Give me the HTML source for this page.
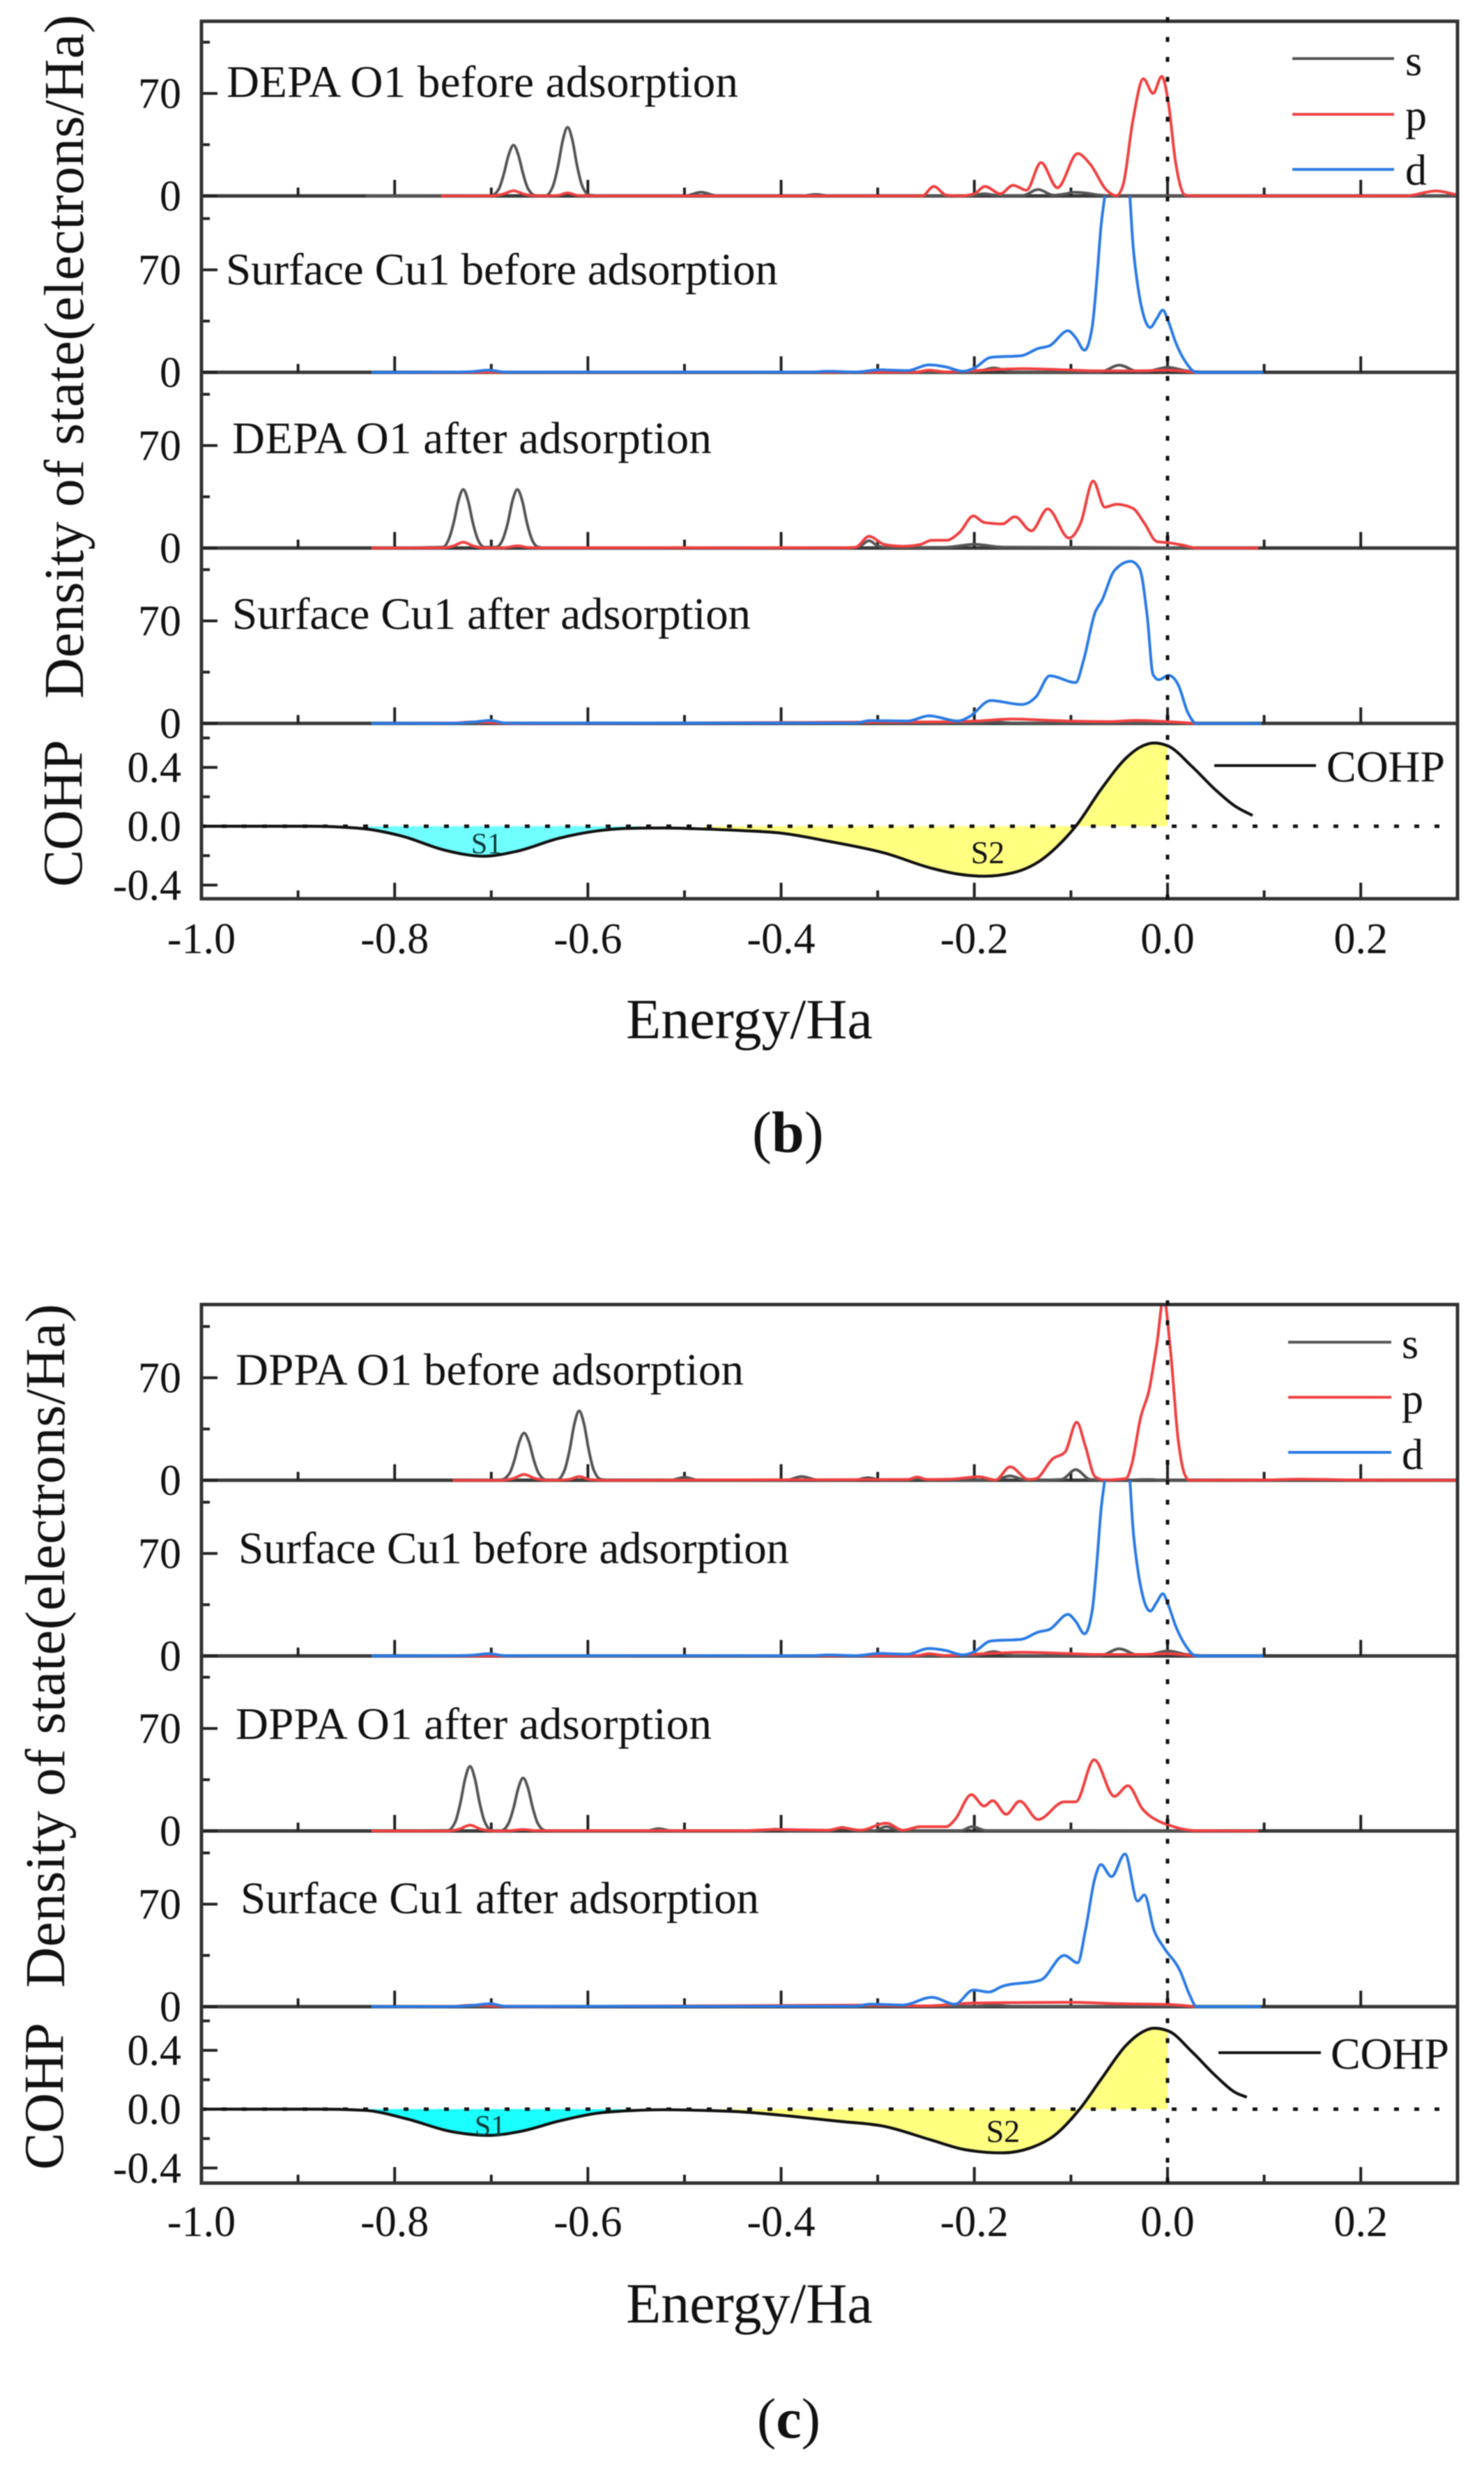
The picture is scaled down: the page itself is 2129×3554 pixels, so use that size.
<!DOCTYPE html>
<html lang="en">
<head>
<meta charset="utf-8">
<title>Density of state and COHP charts</title>
<style>
html,body{margin:0;padding:0;background:#fff;width:2129px;height:3554px;overflow:hidden}
svg{display:block;filter:blur(0.9px)}
text{font-family:"Liberation Serif","Times New Roman",serif;fill:#111}
</style>
</head>
<body>
<svg id="chart" xmlns="http://www.w3.org/2000/svg" width="2129" height="3554" viewBox="0 0 2129 3554">
  <rect x="0" y="0" width="2129" height="3554" fill="#fff"/>
  <defs id="clips"></defs>
  <g id="plots"></g>

  <text x="325" y="139" font-size="65" textLength="734">DEPA O1 before adsorption</text>
  <text x="324" y="408" font-size="65" textLength="792">Surface Cu1 before adsorption</text>
  <text x="333" y="650" font-size="65" textLength="688">DEPA O1 after adsorption</text>
  <text x="333" y="902" font-size="65" textLength="744">Surface Cu1 after adsorption</text>

  <text x="338" y="1986" font-size="65" textLength="729">DPPA O1 before adsorption</text>
  <text x="342" y="2242" font-size="65" textLength="790">Surface Cu1 before adsorption</text>
  <text x="338" y="2494" font-size="65" textLength="683">DPPA O1 after adsorption</text>
  <text x="345" y="2744" font-size="65" textLength="744">Surface Cu1 after adsorption</text>

  <text transform="translate(119,1002) rotate(-90)" font-size="81" textLength="981">Density of state(electrons/Ha)</text>
  <text transform="translate(117,1272) rotate(-90)" font-size="80" textLength="211">COHP</text>
  <text transform="translate(92,2851) rotate(-90)" font-size="81" textLength="981">Density of state(electrons/Ha)</text>
  <text transform="translate(90,3112) rotate(-90)" font-size="80" textLength="211">COHP</text>

  <text x="1075" y="1489" font-size="82" text-anchor="middle">Energy/Ha</text>
  <text x="1075" y="3331" font-size="82" text-anchor="middle">Energy/Ha</text>

  <g>
    <line x1="1854" x2="2000" y1="84" y2="84" stroke="#555" stroke-width="4"/>
    <text x="2016" y="108" font-size="62">s</text>
    <line x1="1854" x2="2000" y1="164" y2="164" stroke="#f04040" stroke-width="4"/>
    <text x="2016" y="186" font-size="62">p</text>
    <line x1="1854" x2="2000" y1="243" y2="243" stroke="#2a7ae4" stroke-width="4"/>
    <text x="2016" y="265" font-size="62">d</text>
    <line x1="1742" x2="1888" y1="1098" y2="1098" stroke="#111" stroke-width="4"/>
    <text x="1903" y="1121" font-size="64" textLength="170">COHP</text>
  </g>
  <g>
    <line x1="1848" x2="1996" y1="1925" y2="1925" stroke="#555" stroke-width="4"/>
    <text x="2011" y="1948" font-size="62">s</text>
    <line x1="1848" x2="1996" y1="2004" y2="2004" stroke="#f04040" stroke-width="4"/>
    <text x="2011" y="2027" font-size="62">p</text>
    <line x1="1848" x2="1996" y1="2083" y2="2083" stroke="#2a7ae4" stroke-width="4"/>
    <text x="2011" y="2107" font-size="62">d</text>
    <line x1="1748" x2="1895" y1="2944" y2="2944" stroke="#111" stroke-width="4"/>
    <text x="1909" y="2967" font-size="64" textLength="170">COHP</text>
  </g>

  <text x="698" y="1224" font-size="42" text-anchor="middle" style="fill:#0b3a3a">S1</text>
  <text x="1417" y="1238" font-size="46" text-anchor="middle">S2</text>
  <text x="703" y="3063" font-size="42" text-anchor="middle" style="fill:#0b3a3a">S1</text>
  <text x="1439" y="3072" font-size="46" text-anchor="middle">S2</text>

  <text x="1079" y="1652" font-size="84">(<tspan font-weight="bold">b</tspan>)</text>
  <text x="1086" y="3496" font-size="82">(<tspan font-weight="bold">c</tspan>)</text>
</svg>
<script>
// ---- axis tick values ----
const xMajorTicks = [-1, -0.8, -0.6, -0.4, -0.2, 0, 0.2];
const xMinorTicks = [-0.9, -0.7, -0.5, -0.3, -0.1, 0.1];
const dosMajorTicks = [0, 70];
const dosMinorTicks = [35, 105];
const cohpMajorTicks = [-0.4, 0, 0.4];
const cohpMinorTicks = [-0.2, 0.2, 0.6];

// ---- figure (b): DEPA O1 before adsorption ----
const b1_s_energy = [-.83,-.70,-.692,-.687,-.682,-.677,-.672,-.667,-.662,-.654,-.644,-.636,-.631,-.626,-.621,-.616,-.611,-.606,-.598,-.58,-.5,-.483,-.465,-.38,-.364,-.348,-.205,-.19,-.175,-.15,-.134,-.118,-.105,-.097,-.085,-.07,-.05,0,.3];
const b1_s_dos = [0,.3,5,15,28,34.7,28,15,5,.3,.2,7,20,38,46.9,38,20,7,.5,0,0,2.5,0,0,1,0,0,1.5,.3,.3,4.4,.5,1.5,2.5,2,.5,0,0,0];
const b1_p_energy = [-.752,-.70,-.688,-.677,-.666,-.65,-.632,-.621,-.61,-.59,-.254,-.242,-.229,-.215,-.2,-.189,-.173,-.16,-.146,-.131,-.114,-.093,-.08,-.063,-.053,-.046,-.036,-.025,-.015,-.006,.001,.008,.018,.025,.246,.278,.3];
const b1_p_dos = [0,0,1.2,3.5,1.2,0,.3,2,.3,0,0,6.5,.5,0,1.5,6.5,1.5,7.3,3.9,22.8,5.6,28.9,21.6,3.9,.2,7.5,51,80,70,81.6,63,24.5,.7,0,0,3.4,.7];

// ---- figure (b): Surface Cu1 before adsorption ----
const b2_s_energy = [-.824,-.2,-.18,-.16,-.07,-.05,-.03,-.02,0,.02,.04];
const b2_s_dos = [0,.2,3,.3,.2,4.9,.5,.8,3.4,1,0];
const b2_p_energy = [-.824,-.26,-.247,-.23,-.19,-.15,-.11,-.07,-.03,0,.03];
const b2_p_dos = [0,.2,1.5,.3,1.5,2.5,1.8,1,1,1.5,0];
const b2_d_energy = [-.824,-.74,-.72,-.703,-.685,-.367,-.352,-.323,-.298,-.269,-.247,-.229,-.212,-.2,-.183,-.151,-.134,-.122,-.103,-.095,-.086,-.078,-.073,-.069,-.065,-.053,-.039,-.036,-.031,-.025,-.018,-.011,-.005,.001,.008,.018,.03,.099];
const b2_d_dos = [0,.2,.5,1.5,.2,.2,.7,.2,1.7,1.2,5.1,3.6,.7,2.9,10.2,11.4,16.3,18.2,28.4,23.6,15.1,30.9,64.9,98.9,120.5,200,120.5,89.2,60,39.4,30.6,36.9,42.5,34.5,21.1,7.8,0,0];

// ---- figure (b): DEPA O1 after adsorption ----
const b3_s_energy = [-.824,-.75,-.744,-.739,-.734,-.729,-.724,-.719,-.714,-.707,-.695,-.688,-.683,-.678,-.673,-.668,-.663,-.658,-.651,-.64,-.33,-.318,-.309,-.3,-.29,-.23,-.2,-.17,-.1,.03];
const b3_s_dos = [0,.6,6,17,32.4,40,32.4,17,6,.6,.6,6,17,32.4,40,32.4,17,6,.6,0,0,1.5,5,1.5,.3,.5,2.5,.6,.5,0];
const b3_p_energy = [-.824,-.75,-.739,-.729,-.719,-.708,-.69,-.683,-.673,-.663,-.65,-.5,-.45,-.4,-.35,-.323,-.309,-.293,-.274,-.256,-.244,-.229,-.215,-.201,-.19,-.171,-.158,-.141,-.124,-.102,-.09,-.077,-.065,-.053,-.036,-.024,-.011,.001,.016,.03,.094];
const b3_p_dos = [0,.1,1.5,4,1.5,.1,.1,.5,1.5,.5,.1,.3,.1,.3,.1,.5,8,2.4,1.2,2.4,5.3,5.3,10.9,21.9,17.5,16.5,21.4,11.7,26.7,6.8,17,45.7,27.9,29.9,27.2,17,4.4,3.6,1.9,0,0];

// ---- figure (b): Surface Cu1 after adsorption ----
const b4_s_energy = [-.824,-.7,-.2,-.18,-.16,-.05,0,.03];
const b4_s_dos = [0,.3,.3,1,.3,.3,.5,0];
const b4_p_energy = [-.824,-.74,-.72,-.70,-.68,-.32,-.24,-.2,-.161,-.12,-.097,-.06,-.033,0,.03];
const b4_p_dos = [0,.2,1,.6,0,.8,1,1.5,3,2,1.5,1.2,2,1.2,0];
const b4_d_energy = [-.824,-.74,-.72,-.701,-.685,-.367,-.323,-.308,-.269,-.247,-.217,-.205,-.183,-.151,-.136,-.122,-.095,-.087,-.075,-.068,-.055,-.038,-.029,-.021,-.015,-.009,.001,.011,.021,.03,.097];
const b4_d_dos = [0,.1,.8,2,.2,.3,.3,1.9,1.6,5.2,1.6,4.6,15.6,12.9,18.3,32.5,27.9,42.9,75.7,83.9,104.4,110.7,105.8,73,33.4,29.8,32.8,26.5,7.4,0,0];

// ---- figure (b): COHP ----
const b_cohp_energy = [-1,-.89,-.836,-.792,-.748,-.708,-.674,-.63,-.591,-.556,-.522,-.483,-.44,-.401,-.352,-.293,-.244,-.215,-.19,-.161,-.131,-.107,-.095,-.068,-.043,-.028,-.014,.001,.025,.05,.07,.088];
const b_cohp_value = [0,0,-.014,-.068,-.163,-.204,-.171,-.082,-.032,-.014,-.012,-.018,-.03,-.046,-.101,-.182,-.286,-.327,-.34,-.318,-.231,-.09,0,.259,.463,.539,.566,.544,.408,.245,.136,.073];

// ---- figure (c): DPPA O1 before adsorption ----
const c1_s_energy = [-.74,-.69,-.681,-.676,-.671,-.666,-.661,-.656,-.651,-.643,-.632,-.624,-.619,-.614,-.609,-.604,-.599,-.594,-.586,-.57,-.515,-.5,-.485,-.395,-.379,-.36,-.325,-.31,-.295,-.27,-.259,-.245,-.18,-.163,-.146,-.11,-.095,-.08,-.05,-.02,0,.3];
const c1_s_dos = [0,.3,4.8,13.9,26.2,32.3,26.2,13.9,4.8,.3,.3,7.1,20.4,38.4,47.4,38.4,20.4,7.1,.5,0,0,2,0,0,2.5,0,0,1.7,0,0,1,0,0,3,0,.5,7.3,.5,0,.5,0,0];
const c1_p_energy = [-.74,-.69,-.677,-.666,-.655,-.64,-.62,-.609,-.598,-.58,-.269,-.259,-.249,-.225,-.195,-.178,-.163,-.144,-.136,-.119,-.106,-.094,-.085,-.075,-.065,-.043,-.037,-.028,-.019,-.011,-.004,.003,.011,.018,.023,.099,.136,.197,.3];
const c1_p_dos = [0,0,1.3,4,1.3,0,.5,2.5,.5,0,.5,2.2,.5,.7,2.4,.2,9.2,.5,1.2,14.6,19.4,39.6,23.1,2.4,.2,1.2,10.9,42.5,62,93.5,125,88.7,27.9,3.6,0,.2,.7,.2,0];

// ---- figure (c): Surface Cu1 before adsorption ----
const c2_s_energy = [-.824,-.2,-.18,-.16,-.07,-.05,-.03,-.02,0,.02,.04];
const c2_s_dos = [0,.2,3,.3,.2,4.9,.5,.8,3.4,1,0];
const c2_p_energy = [-.824,-.26,-.247,-.23,-.19,-.15,-.11,-.07,-.03,0,.03];
const c2_p_dos = [0,.2,1.5,.3,1.5,2.5,1.8,1,1,1.5,0];
const c2_d_energy = [-.824,-.74,-.72,-.703,-.685,-.367,-.352,-.323,-.298,-.269,-.247,-.229,-.212,-.2,-.183,-.151,-.134,-.122,-.103,-.095,-.086,-.078,-.073,-.069,-.065,-.053,-.039,-.036,-.031,-.025,-.018,-.011,-.005,.001,.008,.018,.03,.099];
const c2_d_dos = [0,.2,.5,1.5,.2,.2,.7,.2,1.7,1.2,5.1,3.6,.7,2.9,10.2,11.4,16.3,18.2,28.4,23.6,15.1,30.9,64.9,98.9,120.5,200,120.5,89.2,60,39.4,30.6,36.9,42.5,34.5,21.1,7.8,0,0];

// ---- figure (c): DPPA O1 after adsorption ----
const c3_s_energy = [-.824,-.745,-.737,-.732,-.727,-.722,-.717,-.712,-.707,-.699,-.69,-.682,-.677,-.672,-.667,-.662,-.657,-.652,-.644,-.63,-.54,-.527,-.512,-.42,-.406,-.39,-.35,-.337,-.322,-.305,-.291,-.276,-.215,-.202,-.188,-.1,.03];
const c3_s_dos = [0,.4,6.6,19,35.8,44.2,35.8,19,6.6,.3,.2,5.4,15.6,29.3,36.2,29.3,15.6,5.4,.3,0,0,1.5,0,0,1.2,0,0,2.4,0,0,3,0,0,3,.3,.3,0];
const c3_p_energy = [-.824,-.745,-.733,-.722,-.711,-.695,-.68,-.667,-.654,-.6,-.5,-.44,-.406,-.352,-.337,-.318,-.291,-.274,-.256,-.229,-.22,-.203,-.19,-.181,-.167,-.153,-.134,-.107,-.095,-.076,-.055,-.041,-.026,-.009,.001,.016,.03,.094];
const c3_p_dos = [0,0,1.3,4,1.3,0,.2,1,.2,.2,.2,.2,1,.5,2.2,.5,5.3,.5,2.9,2.9,7.8,24.8,17,20.7,11.4,20.4,7.8,19.9,19.9,48.6,23.6,30.9,15.1,6.6,4.1,1.2,.2,0];

// ---- figure (c): Surface Cu1 after adsorption ----
const c4_s_energy = [-.824,-.7,-.2,-.18,-.16,-.05,0,.03];
const c4_s_dos = [0,.3,.3,1,.3,.3,.5,0];
const c4_p_energy = [-.824,-.74,-.72,-.70,-.68,-.32,-.25,-.2,-.15,-.1,-.05,0,.03];
const c4_p_dos = [0,.2,1,.6,0,1,.5,2.5,2.8,3,2,1.5,0];
const c4_d_energy = [-.824,-.74,-.72,-.701,-.685,-.367,-.323,-.308,-.274,-.244,-.22,-.201,-.185,-.171,-.131,-.107,-.093,-.085,-.075,-.069,-.058,-.044,-.031,-.024,-.014,-.004,.013,.023,.03,.097];
const c4_d_dos = [0,.1,.8,2,.2,.3,.3,1.7,1.1,6.4,1.7,11.4,10,13.9,18.3,35,30,52.2,88.2,97.1,88.8,104.3,72.1,76.3,52.2,40.5,24.4,7.8,0,0];

// ---- figure (c): COHP ----
const c_cohp_energy = [-1,-.875,-.831,-.787,-.743,-.703,-.669,-.63,-.591,-.556,-.522,-.483,-.44,-.391,-.342,-.293,-.244,-.21,-.171,-.141,-.117,-.091,-.068,-.043,-.028,-.014,.001,.025,.05,.07,.082];
const c_cohp_value = [0,0,-.008,-.067,-.15,-.178,-.15,-.081,-.028,-.01,-.004,-.008,-.019,-.047,-.081,-.117,-.211,-.275,-.297,-.261,-.178,0,.211,.433,.517,.55,.531,.392,.225,.114,.081];

// ---- bonding / antibonding shaded energy ranges ----
const b_s1_range = [-.831, -.545];
const b_s2_range = [-.48, 0];
const c_s1_range = [-.831, -.545];
const c_s2_range = [-.47, 0];

// ---- layout (pixels) ----
const SVG_NS = 'http://www.w3.org/2000/svg';
const X_LEFT = 289, X_RIGHT = 2091, X_PER_HA = 1386;
const DOS_PX = 2.1, COHP_PX = 211;
const COLOR_S = '#555555', COLOR_P = '#f04040', COLOR_D = '#2a7ae4';

const xScale = e => X_LEFT + X_PER_HA * (e + 1);
const dosScale = (base, v) => base - DOS_PX * v;
const cohpScale = (zero, v) => zero - COHP_PX * v;

const plots = document.getElementById('plots');
const clips = document.getElementById('clips');

function make(tag, attrs, parent) {
  const node = document.createElementNS(SVG_NS, tag);
  for (const k in attrs) node.setAttribute(k, attrs[k]);
  parent.appendChild(node);
  return node;
}

// Monotone cubic path through data-derived points.
function curvePath(xs, ys) {
  const n = xs.length;
  const h = [], m = [], t = [];
  for (let i = 0; i < n - 1; i++) {
    h[i] = xs[i + 1] - xs[i];
    m[i] = (ys[i + 1] - ys[i]) / (h[i] || 1e-6);
  }
  t[0] = m[0];
  t[n - 1] = m[n - 2];
  for (let i = 1; i < n - 1; i++) {
    if (m[i - 1] * m[i] <= 0) {
      t[i] = 0;
    } else {
      const p = (m[i - 1] * h[i] + m[i] * h[i - 1]) / (h[i - 1] + h[i]);
      const s = Math.min(Math.abs(m[i - 1]), Math.abs(m[i]));
      t[i] = Math.sign(m[i]) * Math.min(2 * s, Math.abs(p));
    }
  }
  let d = 'M' + xs[0].toFixed(1) + ' ' + ys[0].toFixed(1);
  for (let i = 0; i < n - 1; i++) {
    const c = h[i] / 3;
    d += 'C' + (xs[i] + c).toFixed(1) + ' ' + (ys[i] + t[i] * c).toFixed(1) + ' ' +
         (xs[i + 1] - c).toFixed(1) + ' ' + (ys[i + 1] - t[i + 1] * c).toFixed(1) + ' ' +
         xs[i + 1].toFixed(1) + ' ' + ys[i + 1].toFixed(1);
  }
  return d;
}

function drawXTicks(group, base, prefix) {
  xMajorTicks.forEach(e => {
    const tick = make('line', {x1: xScale(e), x2: xScale(e), y1: base, y2: base - 23, stroke: '#222', 'stroke-width': 4}, group);
    
    
  });
  xMinorTicks.forEach(e => {
    const tick = make('line', {x1: xScale(e), x2: xScale(e), y1: base, y2: base - 12, stroke: '#222', 'stroke-width': 4}, group);
    
    
  });
}

function drawYTick(group, y, len, prefix) {
  const tick = make('line', {x1: X_LEFT, x2: X_LEFT + len, y1: y, y2: y, stroke: '#222', 'stroke-width': 4}, group);
  
  
}

function drawYLabel(group, y, str, prefix) {
  const label = make('text', {x: 260, y: y + 21, 'font-size': 62, 'text-anchor': 'end'}, group);
  label.textContent = str;
  
  
}

function drawSeries(group, clipId, base, energy, dos, color, name) {
  const xs = energy.map(xScale);
  const ys = dos.map(v => dosScale(base, v));
  const line = make('path', {d: curvePath(xs, ys), fill: 'none', stroke: color, 'stroke-width': 4, 'stroke-linejoin': 'round', 'clip-path': 'url(#' + clipId + ')'}, group);
  
  
}

function drawDosPanel(fig, idx, top, base, series) {
  const prefix = fig.id + '-panel-' + (idx + 1);
  const group = make('g', {}, plots);
  
  

  const clipId = prefix + '-clip';
  const clip = make('clipPath', {id: clipId}, clips);
  make('rect', {x: X_LEFT, y: top, width: X_RIGHT - X_LEFT, height: base - top + 2.5}, clip);

  const baseline = make('line', {x1: X_LEFT, x2: X_RIGHT, y1: base, y2: base, stroke: '#3a3a3a', 'stroke-width': 5}, group);
  
  

  drawXTicks(group, base, prefix);
  dosMajorTicks.forEach(v => {
    drawYTick(group, dosScale(base, v), 23, prefix);
    drawYLabel(group, dosScale(base, v), String(v), prefix);
  });
  dosMinorTicks.forEach(v => drawYTick(group, dosScale(base, v), 12, prefix));

  series.forEach(s => drawSeries(group, clipId, base, s.energy, s.dos, s.color, prefix + '-' + s.orbital + '-line'));
}

function drawCohpPanel(fig, energy, value, s1, s2) {
  const prefix = fig.id + '-cohp';
  const group = make('g', {}, plots);
  
  

  const xs = energy.map(xScale);
  const ys = value.map(v => cohpScale(fig.cohpZero, v));
  const curve = curvePath(xs, ys);
  const areaPath = curve + 'L' + xs[xs.length - 1].toFixed(1) + ' ' + fig.cohpZero + 'L' + xs[0].toFixed(1) + ' ' + fig.cohpZero + 'Z';

  [[s1, fig.cyan, 's1'], [s2, fig.yellow, 's2']].forEach(item => {
    const range = item[0];
    const clipId = prefix + '-' + item[2] + '-clip';
    const clip = make('clipPath', {id: clipId}, clips);
    make('rect', {x: xScale(range[0]), y: fig.cohpTop, width: xScale(range[1]) - xScale(range[0]), height: fig.bottom - fig.cohpTop}, clip);
    const area = make('path', {d: areaPath, fill: item[1], stroke: 'none', 'clip-path': 'url(#' + clipId + ')'}, group);
    
    
  });

  drawXTicks(group, fig.bottom, prefix);
  cohpMajorTicks.forEach(v => {
    drawYTick(group, cohpScale(fig.cohpZero, v), 23, prefix);
    drawYLabel(group, cohpScale(fig.cohpZero, v), v.toFixed(1), prefix);
  });
  cohpMinorTicks.forEach(v => drawYTick(group, cohpScale(fig.cohpZero, v), 12, prefix));

  const zeroLine = make('line', {x1: X_LEFT, x2: 2080, y1: fig.cohpZero, y2: fig.cohpZero, stroke: '#111', 'stroke-width': 5, 'stroke-dasharray': '7 22'}, group);
  
  

  const line = make('path', {d: curve, fill: 'none', stroke: '#111', 'stroke-width': 4.2, 'stroke-linejoin': 'round'}, group);
  
  
}

function drawFrame(fig) {
  const group = make('g', {}, plots);
  
  

  const frame = make('rect', {x: X_LEFT, y: fig.top, width: X_RIGHT - X_LEFT, height: fig.bottom - fig.top, fill: 'none', stroke: '#333', 'stroke-width': 5}, group);
  
  

  const fermi = make('line', {x1: xScale(0), x2: xScale(0), y1: fig.top - 6, y2: fig.bottom + 9, stroke: '#111', 'stroke-width': 5, 'stroke-dasharray': '7 21.6'}, group);
  
  

  xMajorTicks.forEach(e => {
    const label = make('text', {x: xScale(e), y: fig.xLabelY, 'font-size': 62, 'text-anchor': 'middle'}, group);
    label.textContent = e.toFixed(1);
    
    
  });
}

function drawFigure(fig, panels, cohp) {
  panels.forEach((series, i) => {
    const top = i === 0 ? fig.top : fig.bases[i - 1];
    drawDosPanel(fig, i, top, fig.bases[i], series);
  });
  drawCohpPanel(fig, cohp.energy, cohp.value, cohp.s1, cohp.s2);
  drawFrame(fig);
}

const orbital = (name, energy, dos) => ({
  orbital: name,
  energy: energy,
  dos: dos,
  color: name === 's' ? COLOR_S : name === 'p' ? COLOR_P : COLOR_D
});

drawFigure(
  {id: 'b', top: 30.5, bases: [281, 534, 786, 1037.5], cohpTop: 1037.5, cohpZero: 1185, bottom: 1289, xLabelY: 1367, cyan: '#70ffff', yellow: '#ffff80'},
  [
    [orbital('s', b1_s_energy, b1_s_dos), orbital('p', b1_p_energy, b1_p_dos)],
    [orbital('s', b2_s_energy, b2_s_dos), orbital('p', b2_p_energy, b2_p_dos), orbital('d', b2_d_energy, b2_d_dos)],
    [orbital('s', b3_s_energy, b3_s_dos), orbital('p', b3_p_energy, b3_p_dos)],
    [orbital('s', b4_s_energy, b4_s_dos), orbital('p', b4_p_energy, b4_p_dos), orbital('d', b4_d_energy, b4_d_dos)]
  ],
  {energy: b_cohp_energy, value: b_cohp_value, s1: b_s1_range, s2: b_s2_range}
);

drawFigure(
  {id: 'c', top: 1871, bases: [2123, 2375, 2626, 2878], cohpTop: 2878, cohpZero: 3025, bottom: 3131, xLabelY: 3207, cyan: '#1affff', yellow: '#ffff80'},
  [
    [orbital('s', c1_s_energy, c1_s_dos), orbital('p', c1_p_energy, c1_p_dos)],
    [orbital('s', c2_s_energy, c2_s_dos), orbital('p', c2_p_energy, c2_p_dos), orbital('d', c2_d_energy, c2_d_dos)],
    [orbital('s', c3_s_energy, c3_s_dos), orbital('p', c3_p_energy, c3_p_dos)],
    [orbital('s', c4_s_energy, c4_s_dos), orbital('p', c4_p_energy, c4_p_dos), orbital('d', c4_d_energy, c4_d_dos)]
  ],
  {energy: c_cohp_energy, value: c_cohp_value, s1: c_s1_range, s2: c_s2_range}
);
</script>
</body>
</html>
